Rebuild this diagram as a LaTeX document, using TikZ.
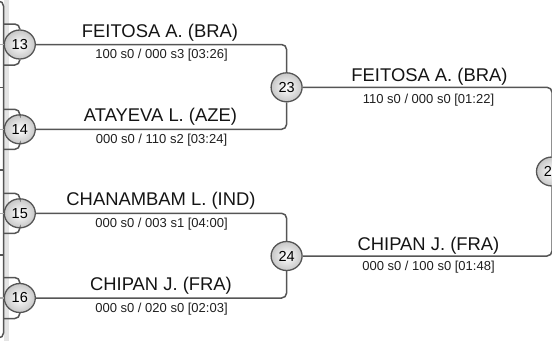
\documentclass[tikz,border=0pt]{standalone}
\usepackage{fontspec}
\setmainfont{Liberation Sans}
\usetikzlibrary{shapes.geometric}
\definecolor{ln}{HTML}{555555}
\definecolor{lnlight}{HTML}{AAAAAA}
\definecolor{strip}{HTML}{E4E4E4}
\tikzset{
  seed/.style={ellipse, draw=ln, line width=1.3pt, inner color=white, outer color=black!22,
    minimum width=31pt, minimum height=29pt, inner sep=0pt, font=\fontsize{14.5}{16}\selectfont},
  conn/.style={draw=ln, line width=1.5pt, rounded corners=5pt},
  pname/.style={anchor=base, font=\fontsize{18.4}{20}\selectfont, text=black!92},
  pscore/.style={anchor=base, font=\fontsize{13}{15}\selectfont, text=black!88},
}
\begin{document}
\begin{tikzpicture}[x=1pt,y=-1pt]
\useasboundingbox (0,0) rectangle (552,341);
\clip (0,0) rectangle (552,341);
% left strip and partial bracket
\fill[strip] (3.5,0) rectangle (8.5,341);
\draw[conn] (-8,1) -- (3.5,1) -- (3.5,338) -- (-8,338);
\coordinate (s1) at (0,87.3);
\coordinate (s2) at (0,170);
\coordinate (s3) at (0,255);
\foreach \s in {s1,s2,s3} \draw[draw=ln, line width=1.5pt] (\s) -- ++(3.5,0);
% seeds
\node[seed] (c13) at (19.8,44.5) {13};
\node[seed] (c14) at (19.8,129.3) {14};
\node[seed] (c15) at (19.8,213.3) {15};
\node[seed] (c16) at (19.8,298) {16};
\node[seed] (c23) at (286.6,87.3) {23};
\node[seed] (c24) at (286.6,256) {24};
\node[seed] (c25) at (552,171.5) {25};
% light stubs left of the strip
\foreach \c in {c13,c14,c15,c16} \draw[lnlight, line width=1.2pt] (\c.center -| 0,0) -- (\c.center -| 3.5,0);
% incoming brackets at left
\foreach \c/\t/\b in {c13/24/65, c14/109.3/149.3, c15/193.3/233.3, c16/277.5/318.5}{
  \coordinate (\c t) at (3.5,\t);
  \coordinate (\c b) at (3.5,\b);
  \draw[conn] (\c t) -- (\c t -| \c) -- (\c.north);
  \draw[conn] (\c b) -- (\c b -| \c) -- (\c.south);
}
% round 2 connectors
\draw[conn] (c13.east) -- (c13 -| c23) -- (c23.north);
\draw[conn] (c14.east) -- (c14 -| c23) -- (c23.south);
\draw[conn] (c15.east) -- (c15 -| c24) -- (c24.north);
\draw[conn] (c16.east) -- (c16 -| c24) -- (c24.south);
% round 3 connectors
\draw[conn] (c23.east) -- (c23 -| c25) -- (c25.north);
\draw[conn] (c24.east) -- (c24 -| c25) -- (c25.south);
% labels
\node[pname] (n13) at (160,37) {FEITOSA A. (BRA)};
\node[pscore] (r13) at (161.5,58.5) {100 s0 / 000 s3 [03:26]};
\node[pname] (n14) at (160.5,121.7) {ATAYEVA L. (AZE)};
\node[pscore] (r14) at (161.5,143) {000 s0 / 110 s2 [03:24]};
\node[pname] (n15) at (161,205.5) {CHANAMBAM L. (IND)};
\node[pscore] (r15) at (161.5,227.5) {000 s0 / 003 s1 [04:00]};
\node[pname] (n16) at (161,290) {CHIPAN J. (FRA)};
\node[pscore] (r16) at (161.5,312) {000 s0 / 020 s0 [02:03]};
\node[pname] (n23) at (429.5,81) {FEITOSA A. (BRA)};
\node[pscore] (r23) at (428.5,103) {110 s0 / 000 s0 [01:22]};
\node[pname] (n24) at (428.5,250) {CHIPAN J. (FRA)};
\node[pscore] (r24) at (428.5,270.5) {000 s0 / 100 s0 [01:48]};
\end{tikzpicture}
\end{document}
